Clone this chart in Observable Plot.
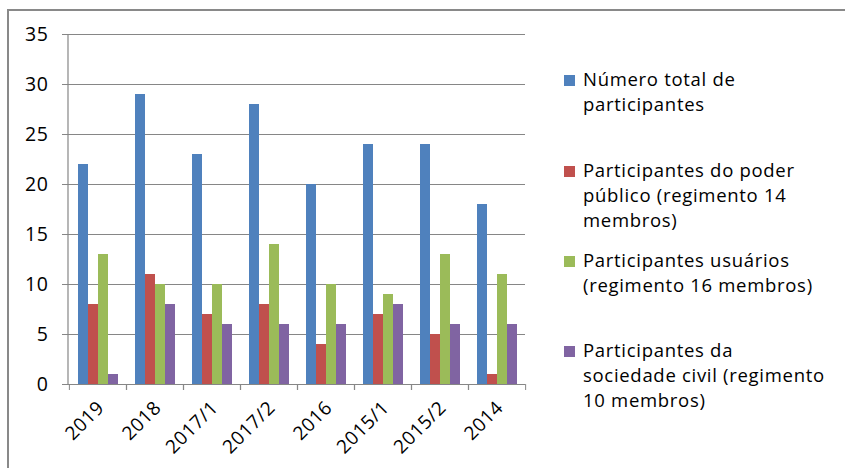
<!DOCTYPE html>
<html>
<head>
<meta charset="utf-8">
<script src="https://cdn.jsdelivr.net/npm/d3@7"></script>
<script src="https://cdn.jsdelivr.net/npm/@observablehq/plot@0.6"></script>
<style>
  html, body { margin: 0; padding: 0; background: #fff; }
  #wrap { position: relative; width: 845px; height: 468px; overflow: hidden; font-family: "Open Sans", Lato, sans-serif; }
  #frame { position: absolute; left: 7px; top: 9px; width: 860px; height: 480px; border-top: 2px solid #898989; border-left: 2px solid #898989; box-sizing: border-box; }
  #chart { position: absolute; left: 0; top: 0; }
  #legend { position: absolute; left: 564px; top: 0; font-size: 18.5px; letter-spacing: 0.7px; line-height: 25px; color: #000; }
  .entry { position: absolute; left: 0; white-space: nowrap; }
  .sw { position: absolute; left: 0; width: 11px; height: 11px; }
  .txt { position: absolute; left: 19px; }
  svg text { letter-spacing: 0.6px; }
</style>
</head>
<body>
<div id="wrap">
  <div id="frame"></div>
  <div id="chart"></div>
  <div id="legend"></div>
</div>
<script>
const categories = ["2019", "2018", "2017/1", "2017/2", "2016", "2015/1", "2015/2", "2014"];
const seriesNames = [
  "Número total de participantes",
  "Participantes do poder público (regimento 14 membros)",
  "Participantes usuários (regimento 16 membros)",
  "Participantes da sociedade civil (regimento 10 membros)"
];
const legendLines = [
  ["Número total de", "participantes"],
  ["Participantes do poder", "público (regimento 14", "membros)"],
  ["Participantes usuários", "(regimento 16 membros)"],
  ["Participantes da", "sociedade civil (regimento", "10 membros)"]
];
const total = [22, 29, 23, 28, 20, 24, 24, 18];
const poderPublico = [8, 11, 7, 8, 4, 7, 5, 1];
const usuarios = [13, 10, 10, 14, 10, 9, 13, 11];
const sociedadeCivil = [1, 8, 6, 6, 6, 8, 6, 6];
const yTicks = [0, 5, 10, 15, 20, 25, 30, 35];
const colors = ["#4F81BD", "#C0504D", "#9BBB59", "#8064A2"];

const seriesValues = [total, poderPublico, usuarios, sociedadeCivil];
const data = [];
categories.forEach((c, i) => {
  seriesNames.forEach((s, j) => data.push({cat: c, series: s, value: seriesValues[j][i]}));
});

const W = 845, H = 468, ML = 68, MR = 319, MT = 34, MB = 84;
const step = (W - ML - MR) / categories.length;
const font = "'Open Sans', Lato, sans-serif";

const chart = Plot.plot({
  width: W, height: H,
  marginLeft: ML, marginRight: MR, marginTop: MT, marginBottom: MB,
  style: {fontFamily: font, fontSize: "19px", background: "transparent", color: "#000"},
  fx: {domain: categories, padding: 0, label: null, axis: null},
  x: {domain: seriesNames, paddingInner: 0, paddingOuter: 0.75, axis: null},
  y: {domain: [0, 35], label: null, axis: null},
  color: {domain: seriesNames, range: colors},
  marks: [
    Plot.ruleY(yTicks, {stroke: "#868686", strokeWidth: 1.2}),
    Plot.barY(data, {fx: "cat", x: "series", y: "value", fill: "series"}),
    Plot.axisY(yTicks, {tickSize: 7, tickPadding: 14, stroke: "#868686", fill: "#000", label: null, fontSize: 19.5}),
    Plot.axisFx({anchor: "bottom", tickSize: 0, tickRotate: -45, tickPadding: 20, dx: 3, label: null, fill: "#000", fontSize: 19}),
    Plot.axisFx({anchor: "bottom", tickSize: 6, tickFormat: () => "", dx: -step / 2, stroke: "#868686", label: null}),
    Plot.axisFx({anchor: "bottom", tickSize: 6, tickFormat: () => "", dx: step / 2, stroke: "#868686", label: null})
  ]
});

// left axis line
const ys = chart.scale("y");
d3.select(chart).append("line")
  .attr("x1", ML).attr("x2", ML)
  .attr("y1", ys.apply(0)).attr("y2", ys.apply(35))
  .attr("stroke", "#868686").attr("stroke-width", 1.2);

document.getElementById("chart").appendChild(chart);

// legend
const tops = [66, 157, 247, 337];
const legend = d3.select("#legend");
seriesNames.forEach((s, j) => {
  const e = legend.append("div").attr("class", "entry").style("top", tops[j] + "px");
  e.append("div").attr("class", "sw").style("top", "9px").style("background", colors[j]);
  const t = e.append("div").attr("class", "txt");
  legendLines[j].forEach((line, k) => {
    if (k) t.append("br");
    t.append("span").text(line);
  });
});
</script>
</body>
</html>
